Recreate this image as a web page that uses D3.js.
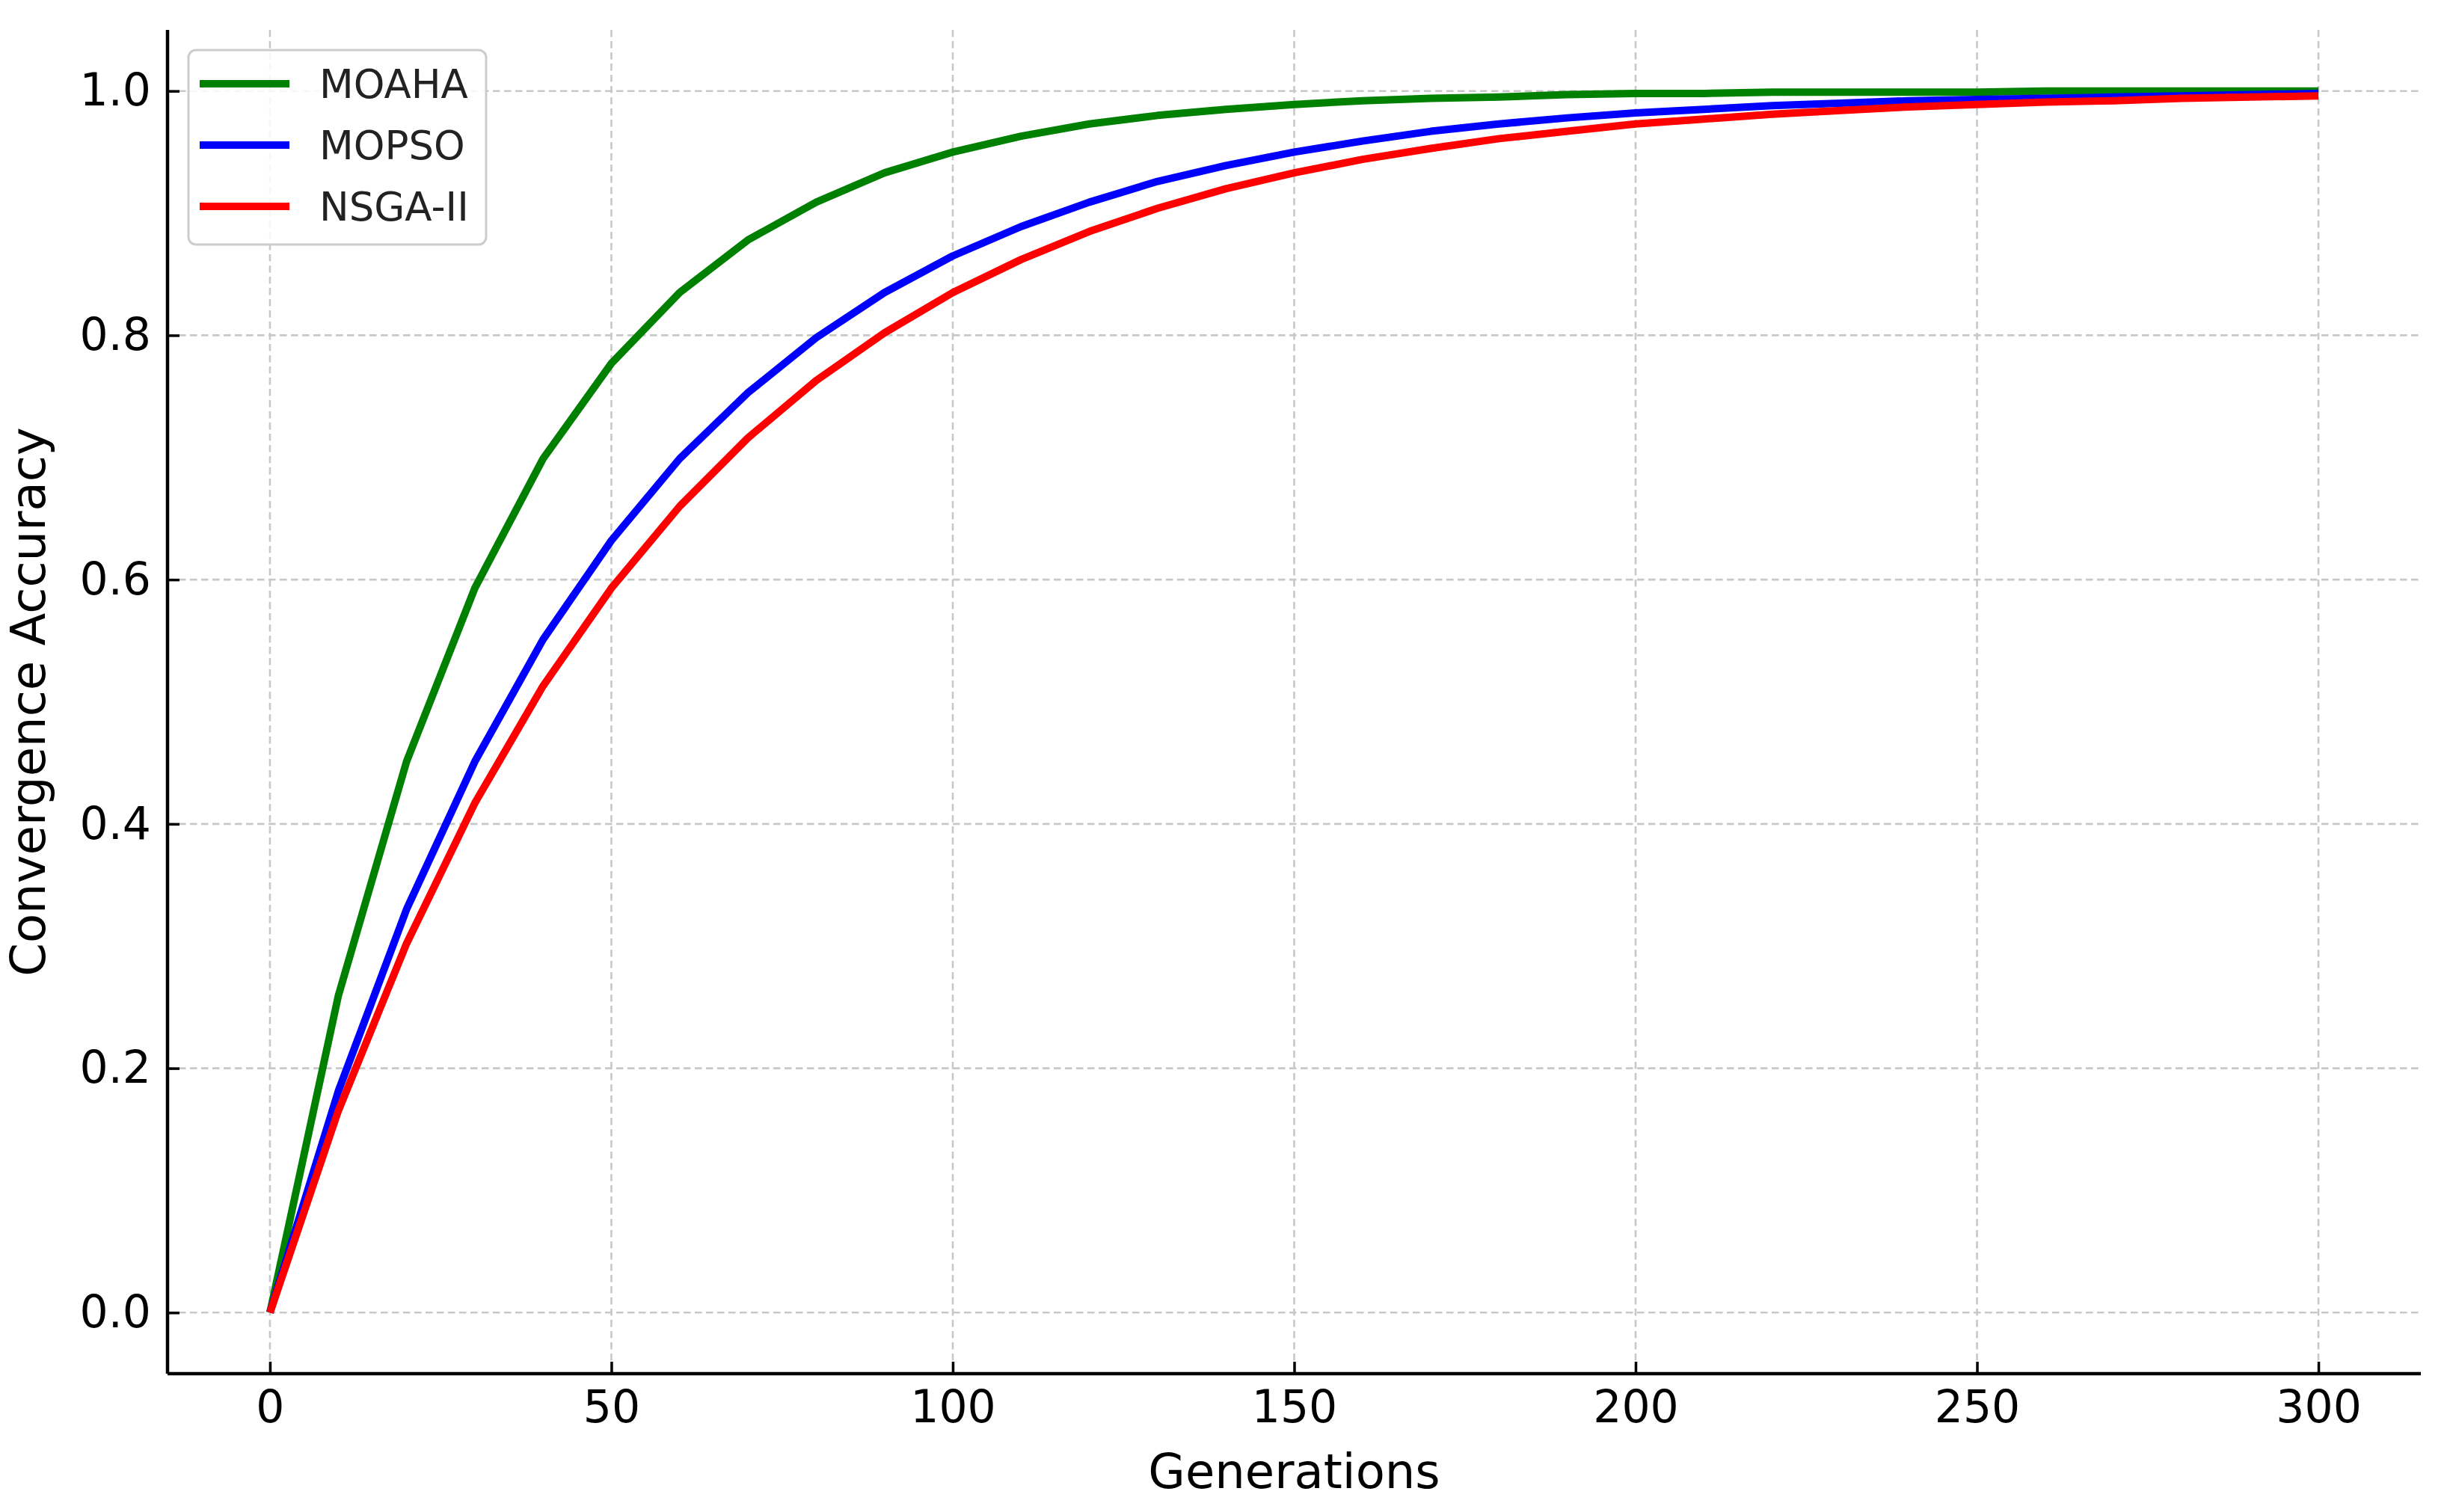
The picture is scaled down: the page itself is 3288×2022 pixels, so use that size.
<!DOCTYPE html>
<html>
<head>
<meta charset="utf-8">
<script src="https://cdn.jsdelivr.net/npm/d3@7"></script>
<style>
  html, body { margin: 0; padding: 0; background: #fff; }
  svg { display: block; }
  text { font-family: "DejaVu Sans", sans-serif; }
</style>
</head>
<body>
<script>
const generations = [0,10,20,30,40,50,60,70,80,90,100,110,120,130,140,150,160,170,180,190,200,210,220,230,240,250,260,270,280,290,300];
const moaha = [0,0.259,0.451,0.593,0.699,0.777,0.835,0.878,0.909,0.933,0.950,0.963,0.973,0.980,0.985,0.989,0.992,0.994,0.995,0.997,0.998,0.998,0.999,0.999,0.999,0.999,1.000,1.000,1.000,1.000,1.000];
const mopso = [0,0.181,0.330,0.451,0.551,0.632,0.699,0.753,0.798,0.835,0.865,0.889,0.909,0.926,0.939,0.950,0.959,0.967,0.973,0.978,0.982,0.985,0.988,0.990,0.992,0.993,0.994,0.995,0.996,0.997,0.998];
const nsga2 = [0,0.165,0.302,0.417,0.513,0.593,0.660,0.716,0.763,0.802,0.835,0.862,0.885,0.904,0.920,0.933,0.944,0.953,0.961,0.967,0.973,0.977,0.981,0.984,0.987,0.989,0.991,0.992,0.994,0.995,0.996];
const seriesNames = ["MOAHA","MOPSO","NSGA-II"];
const seriesColors = ["#008000","#0000ff","#ff0000"];
const xTicks = [0,50,100,150,200,250,300];
const yTicks = [0.0,0.2,0.4,0.6,0.8,1.0];
const xLabel = "Generations";
const yLabel = "Convergence Accuracy";

const W = 3288, H = 2022;
const L = 224, R = 3237, T = 40, B = 1837;

const svg = d3.select("body").append("svg").attr("width", W).attr("height", H);

const x = d3.scaleLinear().domain([-15, 315]).range([L, R]);
const y = d3.scaleLinear().domain([-0.05, 1.05]).range([B, T]);

// grid
const grid = svg.append("g");
grid.selectAll("line.gx").data(xTicks).join("line")
  .attr("x1", d => x(d)).attr("x2", d => x(d)).attr("y1", T).attr("y2", B)
  .attr("stroke", "#c8c8c8").attr("stroke-width", 2.6).attr("stroke-dasharray", "9.5,5.5");
grid.selectAll("line.gy").data(yTicks).join("line")
  .attr("x1", L).attr("x2", R).attr("y1", d => y(d)).attr("y2", d => y(d))
  .attr("stroke", "#c8c8c8").attr("stroke-width", 2.6).attr("stroke-dasharray", "9.5,5.5");

// lines
const data = [moaha, mopso, nsga2];
const line = d3.line().x((d, i) => x(generations[i])).y(d => y(d));
svg.append("g").selectAll("path").data(data).join("path")
  .attr("d", d => line(d))
  .attr("fill", "none")
  .attr("stroke", (d, i) => seriesColors[i])
  .attr("stroke-width", 10)
  .attr("stroke-linejoin", "round");

// axes
const xAxis = d3.axisBottom(x).tickValues(xTicks).tickFormat(d3.format("d")).tickSizeInner(-16).tickSizeOuter(0).tickPadding(22);
const yAxis = d3.axisLeft(y).tickValues(yTicks).tickFormat(d3.format(".1f")).tickSizeInner(-16).tickSizeOuter(0).tickPadding(22);

const gx = svg.append("g").attr("transform", `translate(0,${B})`).call(xAxis);
const gy = svg.append("g").attr("transform", `translate(${L},0)`).call(yAxis);
[gx, gy].forEach(g => {
  g.select(".domain").attr("stroke", "#000").attr("stroke-width", 4.5);
  g.selectAll(".tick line").attr("stroke", "#000").attr("stroke-width", 3.5);
  g.selectAll(".tick text").attr("fill", "#000").style("font-size", "60px").style("font-family", "DejaVu Sans");
});
gx.select(".domain").attr("d", `M${L},0H${R}`);
gy.select(".domain").attr("d", `M0,${T}V${B}`);

// axis labels
svg.append("text").attr("x", (L + R) / 2).attr("y", 1990).attr("text-anchor", "middle")
  .style("font-size", "64px").attr("fill", "#000").text(xLabel);
svg.append("text").attr("transform", `translate(60,${(T + B) / 2}) rotate(-90)`).attr("text-anchor", "middle")
  .style("font-size", "64px").attr("fill", "#000").text(yLabel);

// legend
const lg = svg.append("g");
lg.append("rect").attr("x", 252).attr("y", 67).attr("width", 398).attr("height", 260)
  .attr("rx", 10).attr("ry", 10)
  .attr("fill", "#fff").attr("fill-opacity", 0.85)
  .attr("stroke", "#cccccc").attr("stroke-width", 3);
const rowsY = [112, 194, 276];
seriesNames.forEach((n, i) => {
  lg.append("line").attr("x1", 267).attr("x2", 387).attr("y1", rowsY[i]).attr("y2", rowsY[i])
    .attr("stroke", seriesColors[i]).attr("stroke-width", 10);
  lg.append("text").attr("x", 427).attr("y", rowsY[i] + 19)
    .style("font-size", "53px").attr("fill", "#222").text(n);
});
</script>
</body>
</html>
